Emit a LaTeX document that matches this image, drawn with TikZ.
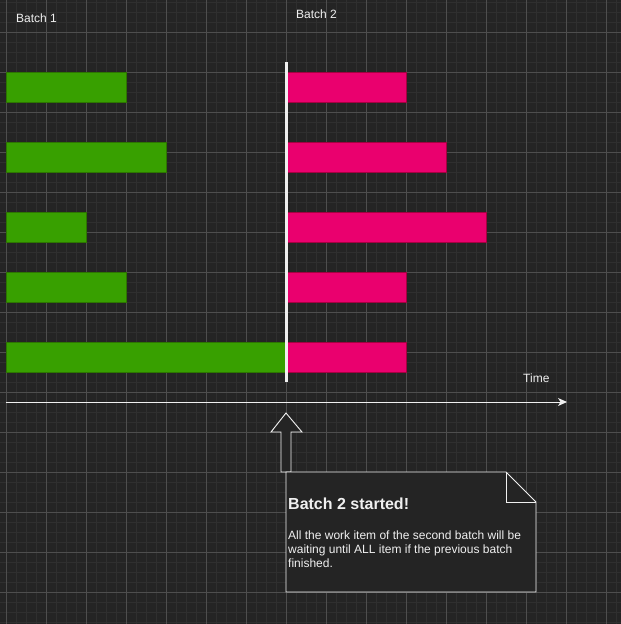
\documentclass[tikz,border=0pt]{standalone}
\usepackage{fontspec}
\setmainfont{Liberation Sans}
\usetikzlibrary{arrows.meta}
\definecolor{bg}{HTML}{242424}
\definecolor{gridminor}{HTML}{2F2F2F}
\definecolor{gridmajor}{HTML}{4E4E4E}
\definecolor{greenfill}{HTML}{38A000}
\definecolor{greenline}{HTML}{2D7600}
\definecolor{pinkfill}{HTML}{EA006E}
\definecolor{pinkline}{HTML}{A50040}
\definecolor{ink}{HTML}{F0F0F0}
\tikzset{
  bar/.style={draw, line width=1pt, minimum height=30pt, inner sep=0pt, outer sep=0pt, anchor=north west},
  batch1/.style={bar, fill=greenfill, draw=greenline},
  batch2/.style={bar, fill=pinkfill, draw=pinkline},
  label/.style={text=ink, inner sep=0pt, anchor=base west, font=\fontsize{12}{14}\selectfont},
  outline/.style={draw=ink, line width=0.9pt, fill=bg},
}
\begin{document}
\begin{tikzpicture}[x=1pt, y=-1pt]
  % canvas and grid
  \fill[bg] (0,0) rectangle (621,624);
  \useasboundingbox (0,0) rectangle (621,624);
  \foreach \x in {6,16,...,616} \draw[gridminor, line width=0.8pt] (\x,0) -- (\x,624);
  \foreach \y in {2,12,...,622} \draw[gridminor, line width=0.8pt] (0,\y) -- (621,\y);
  \foreach \x in {6,46,...,606} \draw[gridmajor, line width=0.7pt] (\x,0) -- (\x,624);
  \foreach \y in {32,72,...,592} \draw[gridmajor, line width=0.7pt] (0,\y) -- (621,\y);

  % headings
  \node[label] (b1) at (16,22) {Batch 1};
  \node[label] (b2) at (296,18.5) {Batch 2};

  % first batch
  \node[batch1, minimum width=120pt] (g1) at (6,72) {};
  \node[batch1, minimum width=160pt] (g2) at (6,142) {};
  \node[batch1, minimum width=80pt]  (g3) at (6,212) {};
  \node[batch1, minimum width=120pt] (g4) at (6,272) {};
  \node[batch1, minimum width=280pt] (g5) at (6,342) {};

  % second batch
  \node[batch2, minimum width=120pt] (p1) at (286,72) {};
  \node[batch2, minimum width=160pt] (p2) at (286,142) {};
  \node[batch2, minimum width=200pt] (p3) at (286,212) {};
  \node[batch2, minimum width=120pt] (p4) at (286,272) {};
  \node[batch2, minimum width=120pt] (p5) at (286,342) {};

  % batch boundary
  \coordinate (sTop) at (286,62);
  \coordinate (sBot) at (286,382);
  \draw[ink, line width=3pt] (sTop) -- (sBot);

  % time axis
  \coordinate (tStart) at (6,402);
  \coordinate (tEnd) at (567,402);
  \draw[ink, line width=1pt, -{Stealth[length=9pt, width=8pt, inset=2.5pt]}] (tStart) -- (tEnd);
  \node[label] (time) at (523,382) {Time};

  % pointer arrow
  \draw[outline, draw=ink!80] (286,413) -- (302,432) -- (291,432) -- (291,472)
        -- (281,472) -- (281,432) -- (271,432) -- cycle;

  % note with folded corner
  \draw[outline] (286,472) -- (506,472) -- (536,502) -- (536,592) -- (286,592) -- cycle;
  \draw[draw=ink, line width=0.9pt] (506,472) -- (506,502) -- (536,502);
  \node[text=ink, inner sep=0pt, anchor=base west, font=\bfseries\fontsize{16}{18}\selectfont] (nt) at (288,509) {Batch 2 started!};
  \node[label] (n1) at (288,539) {All the work item of the second batch will be};
  \node[label] (n2) at (288,553) {waiting until ALL item if the previous batch};
  \node[label] (n3) at (288,567) {finished.};
\end{tikzpicture}
\end{document}
